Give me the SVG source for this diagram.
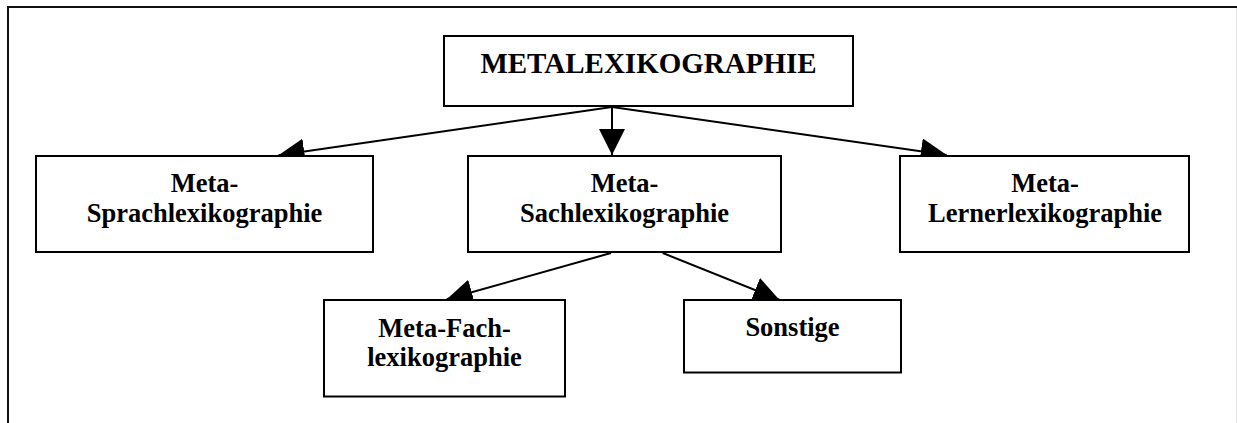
<svg xmlns="http://www.w3.org/2000/svg" width="1237" height="423" viewBox="0 0 1237 423">
  <style>
    .box { fill: #fff; stroke: #000; stroke-width: 2; }
    .lbl { font-family: "Liberation Serif", "Times New Roman", serif; font-weight: bold; font-size: 26.5px; fill: #000; text-anchor: middle; }
    .title { font-size: 29px; }
    .conn { stroke: #000; stroke-width: 2; fill: none; marker-end: url(#arr); }
  </style>
  <defs>
    <marker id="arr" viewBox="0 0 26 26" refX="26" refY="13" markerWidth="26" markerHeight="26" markerUnits="userSpaceOnUse" orient="auto">
      <path d="M0,0 L26,13 L0,26 z" fill="#000"/>
    </marker>
  </defs>
  <rect width="1237" height="423" fill="#fff"/>
  <g id="frame">
    <path d="M8,423 V7 H1237" fill="none" stroke="#111" stroke-width="2"/>
    <line x1="1236.5" y1="8" x2="1236.5" y2="423" stroke="#e6e6e6" stroke-width="1"/>
  </g>
  <g id="connectors">
    <line class="conn" x1="612" y1="107" x2="278.5" y2="155.3"/>
    <line class="conn" x1="612" y1="107" x2="612" y2="155"/>
    <line class="conn" x1="612" y1="107" x2="946.7" y2="155"/>
    <line class="conn" x1="611" y1="253" x2="446.7" y2="299.3"/>
    <line class="conn" x1="662.7" y1="253" x2="779.3" y2="299.7"/>
  </g>
  <g id="node-metalexikographie">
    <rect class="box" x="444" y="36" width="409" height="70"/>
    <text class="lbl title" x="648.5" y="73">METALEXIKOGRAPHIE</text>
  </g>
  <g id="node-sprach">
    <rect class="box" x="36" y="156" width="337" height="96"/>
    <text class="lbl" x="204.5" y="192">Meta-</text>
    <text class="lbl" x="204.5" y="222">Sprachlexikographie</text>
  </g>
  <g id="node-sach">
    <rect class="box" x="468" y="156" width="313" height="96"/>
    <text class="lbl" x="624.5" y="192">Meta-</text>
    <text class="lbl" x="624.5" y="222">Sachlexikographie</text>
  </g>
  <g id="node-lerner">
    <rect class="box" x="900" y="156" width="289" height="96"/>
    <text class="lbl" x="1045" y="192">Meta-</text>
    <text class="lbl" x="1045" y="222">Lernerlexikographie</text>
  </g>
  <g id="node-fach">
    <rect class="box" x="324" y="300" width="241" height="96.5"/>
    <text class="lbl" x="444.5" y="336.5">Meta-Fach-</text>
    <text class="lbl" x="444.5" y="366">lexikographie</text>
  </g>
  <g id="node-sonstige">
    <rect class="box" x="684" y="300" width="217" height="72.5"/>
    <text class="lbl" x="792.5" y="335.5">Sonstige</text>
  </g>
</svg>
